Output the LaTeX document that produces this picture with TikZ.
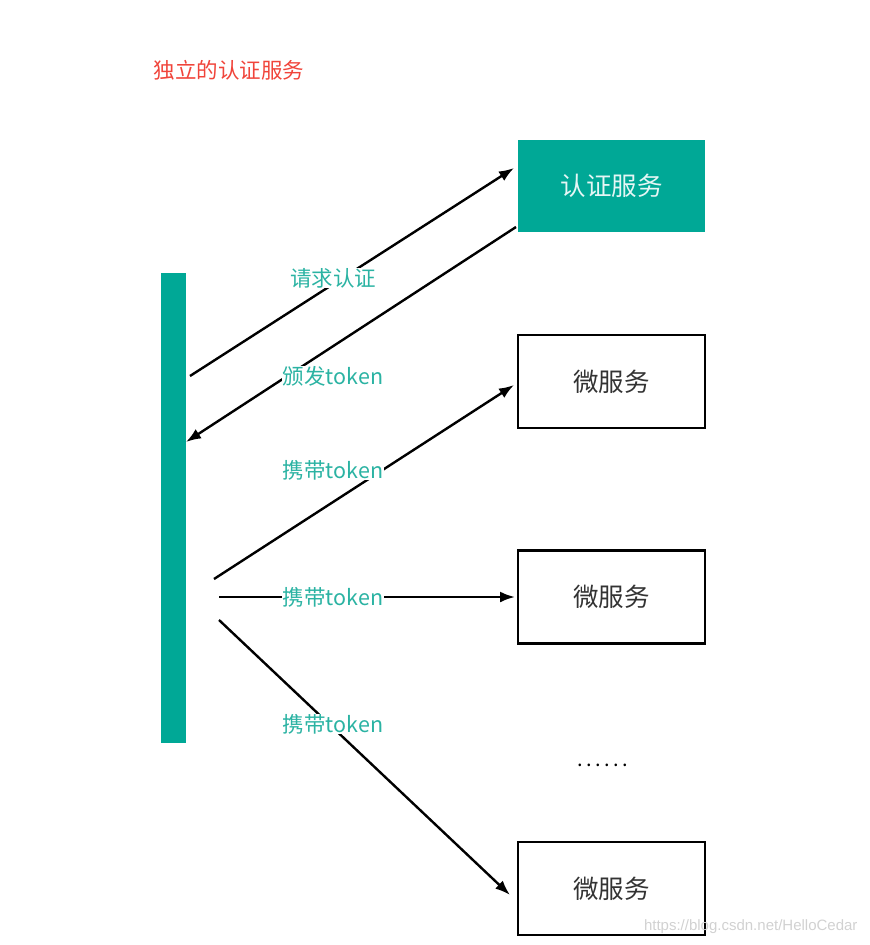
\documentclass[tikz,border=0pt]{standalone}
\usepackage{fontspec}
\setmainfont{Noto Sans CJK SC}
\newfontfamily\wmfont{Liberation Sans}
\usetikzlibrary{arrows.meta,positioning}

\definecolor{teal}{HTML}{00A896}
\definecolor{labelteal}{HTML}{2BB3A3}
\definecolor{titlered}{HTML}{F0443A}
\definecolor{boxtext}{HTML}{333333}

\begin{document}
\begin{tikzpicture}[x=1pt, y=-1pt,
  flow/.style={-{Latex[length=15pt,width=11pt]}, line width=2.4pt, black},
  msg/.style={fill=white, text=labelteal, font=\fontsize{21.5}{23}\selectfont, inner sep=0.5pt},
  service/.style={draw, line width=2.2pt, minimum width=187pt, minimum height=93pt,
    text=boxtext, font=\fontsize{25.5}{27}\selectfont}]
  \useasboundingbox (0,0) rectangle (870,945);

  \node[anchor=west, text=titlered, font=\fontsize{21.5}{23}\selectfont] (title) at (150,70) {独立的认证服务};

  \node[fill=teal, minimum width=187pt, minimum height=92pt, text=white!90!teal,
    font=\fontsize{25.5}{27}\selectfont] (auth) at (611.5,186) {认证服务};
  \node[fill=teal, minimum width=25pt, minimum height=470pt] (client) at (173.5,508) {};

  \node[service] (ms1) at (611.5,381.5) {微服务};
  \node[service] (ms2) at (611.5,597) {微服务};
  \node[service] (ms3) at (611.5,888.5) {微服务};
  \node[font=\fontsize{20}{22}\selectfont] (more) at (603,765)
    {.\kern3.5pt.\kern3.5pt.\kern3.5pt.\kern3.5pt.\kern3.5pt.};

  % arrow ends
  \coordinate (req-s) at (190,376);
  \coordinate (req-e) at (514,168);
  \coordinate (iss-s) at (516,227);
  \coordinate (iss-e) at (186,442);
  \coordinate (c1-s) at (214,579);
  \coordinate (c1-e) at (514,385);
  \coordinate (c2-s) at (219,597);
  \coordinate (c2-e) at (515,597);
  \coordinate (c3-s) at (219,620);
  \coordinate (c3-e) at (510,895);

  \draw[flow] (req-s) -- (req-e);
  \draw[flow] (iss-s) -- (iss-e);
  \draw[flow] (c1-s) -- (c1-e);
  \draw[flow] (c2-s) -- (c2-e);
  \draw[flow] (c3-s) -- (c3-e);

  \node[msg] (req) at (333,278) {请求认证};
  \node[msg] (iss) at (333,376) {颁发token};
  \node[msg] (carry1) at (333,470) {携带token};
  \node[msg] (carry2) at (333,597) {携带token};
  \node[msg] (carry3) at (333,724) {携带token};

  \node[anchor=east, text=black!18, font=\wmfont\fontsize{15}{17}\selectfont] (mark) at (861,927) {https://blog.csdn.net/HelloCedar};

\end{tikzpicture}
\end{document}
